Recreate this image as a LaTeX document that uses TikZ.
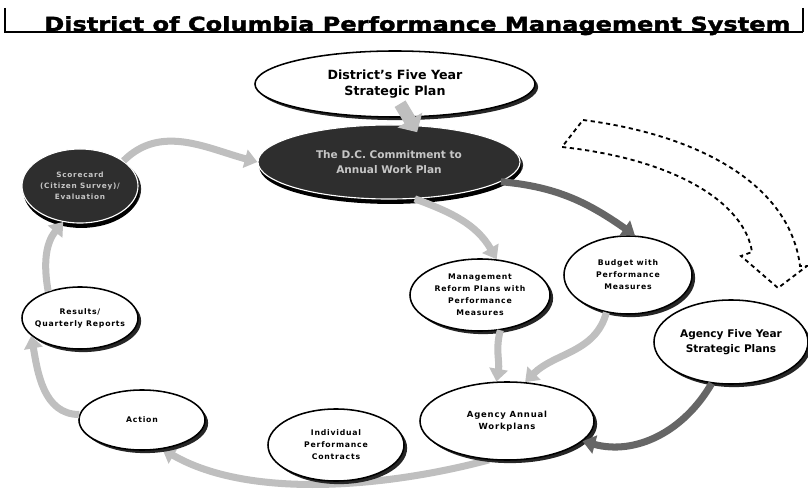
\documentclass[tikz,border=0pt]{standalone}
\usepackage{fontspec}
\setmainfont{DejaVu Sans}
\newfontfamily\widefont[LetterSpace=10]{DejaVu Sans}
\newfontfamily\titlefont[FakeBold=1.5]{DejaVu Sans Bold}
\usetikzlibrary{shapes.geometric,arrows.meta,shadows,backgrounds}

% fonts for the ovals
\newcommand\ovalfont{\widefont\bfseries\fontsize{5.5}{8.5}\selectfont}
\newcommand\bigovalfont{\bfseries\fontsize{9}{12}\selectfont}
\newcommand\midovalfont{\bfseries\fontsize{7.5}{11}\selectfont}

\tikzset{
  oval/.style={ellipse, draw=black, line width=1.1pt, fill=white, align=center,
    inner xsep=-10pt, inner ysep=-4pt, font=\ovalfont,
    drop shadow={shadow xshift=2.2pt, shadow yshift=-2.2pt, fill=black!85, opacity=1}},
  darkoval/.style={oval, fill=black!82, draw=white, line width=0.8pt, text=gray!45,
    drop shadow={shadow xshift=1pt, shadow yshift=-3.5pt, fill=black, opacity=1}},
  flow/.style={draw=gray!50, line width=5pt, -{Triangle[length=9pt,width=13pt]}},
  darkflow/.style={flow, draw=black!60},
  fatflow/.style={draw=gray!50, line width=9pt, -{Triangle[length=10pt,width=20pt]}},
}

\begin{document}
\begin{tikzpicture}[x=0.025cm, y=-0.025cm]
    \useasboundingbox (0,0) rectangle (808,491);

    % Title bar
    \draw[line width=1.2pt] (5,8) -- (5,32) -- (803,32);
    \draw[line width=2pt] (803,8) -- (803,32);
    \node[anchor=base west, inner sep=0pt] (title) at (44,31)
        {\resizebox{18.65cm}{0.37cm}{\titlefont District of Columbia Performance Management System}};

    % City-wide plan and work plan
    \node[oval, font=\bigovalfont, minimum width=7cm, minimum height=1.65cm] (plan) at (395,84)
        {District's Five Year\\Strategic Plan};
    \node[darkoval, font=\midovalfont, minimum width=6.55cm, minimum height=1.85cm] (commit) at (389,162)
        {The D.C. Commitment to\\Annual Work Plan};

    % Left side of the cycle
    \node[darkoval, font={\widefont\bfseries\fontsize{5.2}{8}\selectfont}, minimum width=2.9cm, minimum height=1.85cm] (scorecard) at (80,186)
        {Scorecard\\(Citizen Survey)/\\Evaluation};
    \node[oval, minimum width=2.9cm, minimum height=1.55cm] (results) at (80,318)
        {Results/\\Quarterly Reports};
    \node[oval, minimum width=3.15cm, minimum height=1.5cm] (action) at (142,420) {Action};

    % Right side of the cycle
    \node[oval, minimum width=3.5cm, minimum height=1.8cm] (reform) at (480,295)
        {Management\\Reform Plans with\\Performance\\Measures};
    \node[oval, minimum width=3.2cm, minimum height=1.95cm] (budget) at (628,275)
        {Budget with\\Performance\\Measures};
    \node[oval, font=\midovalfont, minimum width=3.85cm, minimum height=2.1cm] (agency) at (731,342)
        {Agency Five Year\\Strategic Plans};
    \node[oval, font={\widefont\bfseries\fontsize{6}{9}\selectfont}, minimum width=4.35cm, minimum height=1.95cm] (annual) at (507,421)
        {Agency Annual\\Workplans};
    \node[oval, minimum width=3.4cm, minimum height=1.8cm] (contracts) at (336,445)
        {Individual\\Performance\\Contracts};

    % Bottom arc runs behind the contracts oval
    \begin{scope}[on background layer]
        \draw[flow] (annual.-115) to[out=-165, in=-30, looseness=0.8] (action.-55);
    \end{scope}

    % Cycle arrows
    \draw[darkflow] (commit.-10) to[out=-5, in=145] (budget.80);
    \draw[flow] (commit.-55) to[out=-20, in=120] (reform.65);
    \draw[flow] (reform.-60) to[out=-105, in=80] (annual.105);
    \draw[flow] (budget.-120) to[out=-105, in=45] (annual.65);
    \draw[darkflow] (agency.-115) to[out=-120, in=-15] (annual.-15);
    \draw[flow] (action.175) to[out=180, in=-80] (results.-160);
    \draw[flow] (results.140) to[out=100, in=-130] (scorecard.-115);
    \draw[flow] (scorecard.30) to[out=45, in=165] (commit.180);
    \draw[fatflow] ([xshift=3.6pt, yshift=10pt]plan.south) -- ([xshift=20pt, yshift=-5.5pt]commit.north);

    % Dashed outline arrow
    \draw[line width=1.3pt, dash pattern=on 3pt off 2.5pt]
        (583,120) .. controls (700,135) and (790,185) .. (800,266) -- (807,266)
        -- (778,288) -- (741,256) -- (752,252)
        .. controls (745,205) and (680,160) .. (562,147) -- cycle;
\end{tikzpicture}
\end{document}
